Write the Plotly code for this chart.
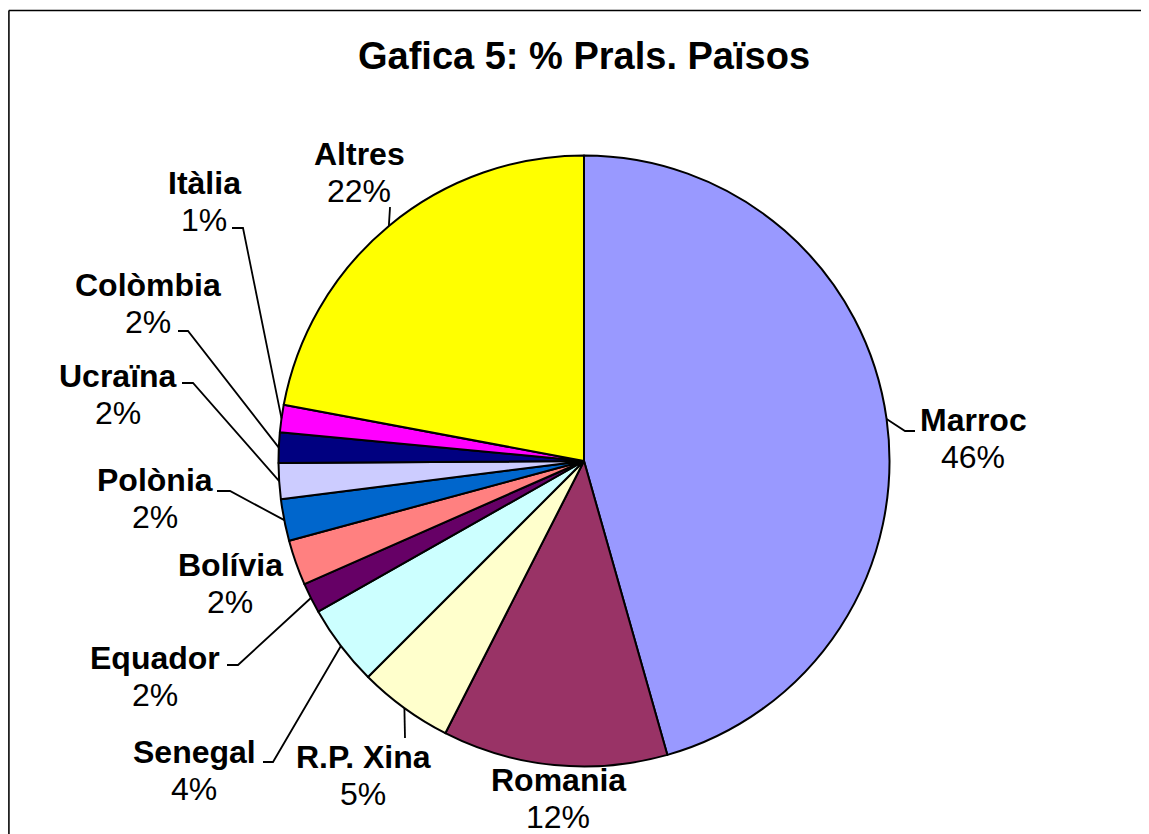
import math
import plotly.graph_objects as go

# ---- data ----
countries = ["Marroc", "Romania", "R.P. Xina", "Senegal", "Equador", "Bolívia",
             "Polònia", "Ucraïna", "Colòmbia", "Itàlia", "Altres"]
values = [45.6, 11.9, 5.0, 4.3, 1.6, 2.4, 2.2, 1.9, 1.6, 1.45, 22.05]
colors = ["#9999FF", "#993366", "#FFFFCC", "#CCFFFF", "#660066", "#FF8080",
          "#0066CC", "#CCCCFF", "#000080", "#FF00FF", "#FFFF00"]
title_text = "Gafica 5: % Prals. Països"

# ---- layout (screen pixels; the page body has an 8px margin) ----
OFF = 8
W, H = 1149 - OFF, 834 - OFF
CX, CY, R = 584, 461, 305.5
FONT = "Liberation Sans, Arial, sans-serif"
LABEL_SIZE = 32
LINE_GAP = 37

# label centre (name line) for each country
label_pos = {
    "Marroc": (973, 420), "Romania": (558, 780), "R.P. Xina": (363, 757),
    "Senegal": (194, 752), "Equador": (155, 658), "Bolívia": (230, 565),
    "Polònia": (155, 480), "Ucraïna": (118, 376), "Colòmbia": (148, 285),
    "Itàlia": (204, 183), "Altres": (359, 154),
}
# leader line points on the label side (from label towards the pie)
leader_pts = {
    "Marroc": [(915, 431), (905, 431)],
    "Altres": [(390, 207)],
    "Itàlia": [(232, 228), (243, 228)],
    "Colòmbia": [(178, 331), (188, 331)],
    "Ucraïna": [(182, 383), (193, 383)],
    "Polònia": [(217, 491), (230, 491)],
    "Equador": [(227, 665), (238, 665)],
    "Senegal": [(263, 762), (273, 762)],
    "R.P. Xina": [(405, 738)],
}

fig = go.Figure()
fig.add_trace(go.Pie(
    labels=countries, values=values, sort=False, direction="clockwise", rotation=0,
    marker=dict(colors=colors, line=dict(color="black", width=2)),
    textinfo="none", hoverinfo="none", showlegend=False,
    domain=dict(x=[(CX - OFF - R) / W, (CX - OFF + R) / W],
                y=[1 - (CY - OFF + R) / H, 1 - (CY - OFF - R) / H]),
))

total = sum(values)
cum = 0.0
shapes = []
annotations = []
for name, v in zip(countries, values):
    mid = (cum + v / 2) / total * 2 * math.pi
    cum += v
    ax_, ay_ = CX + R * math.sin(mid), CY - R * math.cos(mid)
    lx, ly = label_pos[name]
    pct = f"{v / total * 100:.0f}%"
    annotations.append(dict(x=lx, y=ly, xref="x", yref="y", text=f"<b>{name}</b>",
                            showarrow=False, xanchor="center", yanchor="middle",
                            font=dict(family=FONT, size=LABEL_SIZE, color="black")))
    annotations.append(dict(x=lx, y=ly + LINE_GAP, xref="x", yref="y", text=pct,
                            showarrow=False, xanchor="center", yanchor="middle",
                            font=dict(family=FONT, size=LABEL_SIZE, color="black")))
    if name in leader_pts:
        pts = leader_pts[name] + [(ax_, ay_)]
        path = "M " + " L ".join(f"{x:.1f},{y:.1f}" for x, y in pts)
        shapes.append(dict(type="path", path=path, xref="x", yref="y",
                           line=dict(color="black", width=1.8)))

annotations.append(dict(x=584, y=56, xref="x", yref="y", text=f"<b>{title_text}</b>",
                        showarrow=False, xanchor="center", yanchor="middle",
                        font=dict(family=FONT, size=38, color="black")))

# chart-area border (only left and top edges are visible)
shapes.append(dict(type="line", xref="paper", yref="paper",
                   x0=0.8 / W, x1=0.8 / W, y0=0, y1=1 - 2.5 / H,
                   line=dict(color="#222222", width=2)))
shapes.append(dict(type="line", xref="paper", yref="paper",
                   x0=0.8 / W, x1=1, y0=1 - 2.5 / H, y1=1 - 2.5 / H,
                   line=dict(color="black", width=1.5)))

fig.update_layout(
    width=W, height=H, margin=dict(l=0, r=0, t=0, b=0),
    paper_bgcolor="white", plot_bgcolor="white",
    xaxis=dict(range=[OFF, OFF + W], visible=False, domain=[0, 1], fixedrange=True,
               showline=False, zeroline=False, showgrid=False),
    yaxis=dict(range=[OFF + H, OFF], visible=False, domain=[0, 1], fixedrange=True,
               showline=False, zeroline=False, showgrid=False),
    shapes=shapes, annotations=annotations,
)
fig.write_html(
    "out.html",
    config={"displayModeBar": False},
    post_script="document.documentElement.style.overflow='hidden';"
                "document.body.style.overflow='hidden';",
)
